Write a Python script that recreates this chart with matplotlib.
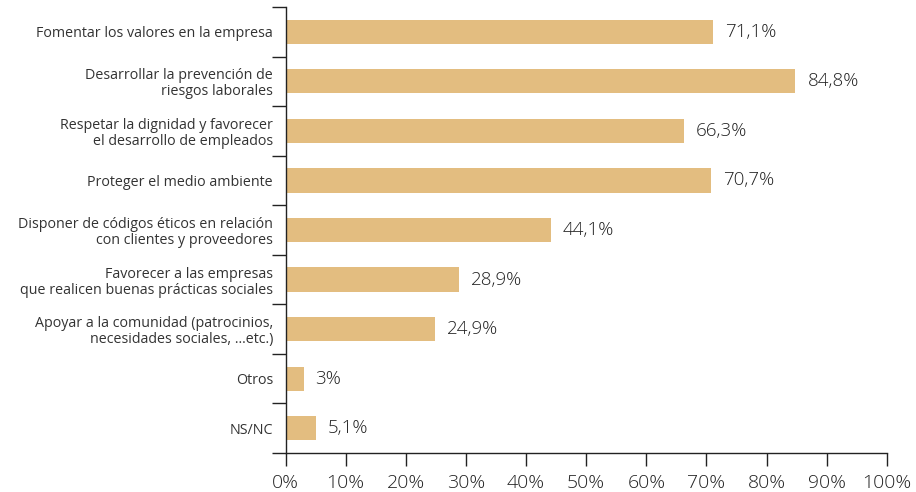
import matplotlib.pyplot as plt
import numpy as np

# Respuestas (% de empresas)
categorias = [
    "Fomentar los valores en la empresa",
    "Desarrollar la prevención de\nriesgos laborales",
    "Respetar la dignidad y favorecer\nel desarrollo de empleados",
    "Proteger el medio ambiente",
    "Disponer de códigos éticos en relación\ncon clientes y proveedores",
    "Favorecer a las empresas\nque realicen buenas prácticas sociales",
    "Apoyar a la comunidad (patrocinios,\nnecesidades sociales, ...etc.)",
    "Otros",
    "NS/NC",
]
valores = [71.1, 84.8, 66.3, 70.7, 44.1, 28.9, 24.9, 3.0, 5.1]
etiquetas = ["71,1%", "84,8%", "66,3%", "70,7%", "44,1%", "28,9%", "24,9%", "3%", "5,1%"]
ticks_x = [0, 10, 20, 30, 40, 50, 60, 70, 80, 90, 100]

plt.rcParams['font.family'] = ['Open Sans', 'DejaVu Sans']
color_barra = '#E3BD80'
color_texto = '#333333'

fig = plt.figure(figsize=(9.16, 4.92), dpi=100)
ax = fig.add_axes([0.3117, 0.0793, 0.6565, 0.9065])

n = len(categorias)
y = np.arange(n)
ax.barh(y, valores, height=0.49, color=color_barra)

for yi, v, txt in zip(y, valores, etiquetas):
    ax.text(v + 2.0, yi, txt, va='center', ha='left', fontsize=13.5,
            fontweight='light', color='#222222')

ax.set_xlim(0, 100)
ax.set_ylim(n - 0.5, -0.5)

# ticks del eje y entre categorías, etiquetas centradas
ax.set_yticks(np.arange(n + 1) - 0.5)
ax.set_yticklabels([])
ax.set_yticks(y, minor=True)
ax.set_yticklabels(categorias, minor=True, fontsize=10.3, color=color_texto,
                   linespacing=1.1)
ax.tick_params(axis='y', which='minor', length=0, pad=9)
ax.tick_params(axis='y', which='major', length=10, width=1, color='#222222')

ax.set_xticks(ticks_x)
ax.set_xticklabels([f"{t}%" for t in ticks_x], fontsize=14, fontweight='light',
                   color='#222222')
ax.tick_params(axis='x', length=9, width=1, color='#222222', pad=6)

for s in ['top', 'right']:
    ax.spines[s].set_visible(False)
for s in ['left', 'bottom']:
    ax.spines[s].set_color('#222222')
    ax.spines[s].set_linewidth(1)

fig.savefig('out.png', dpi=100)
